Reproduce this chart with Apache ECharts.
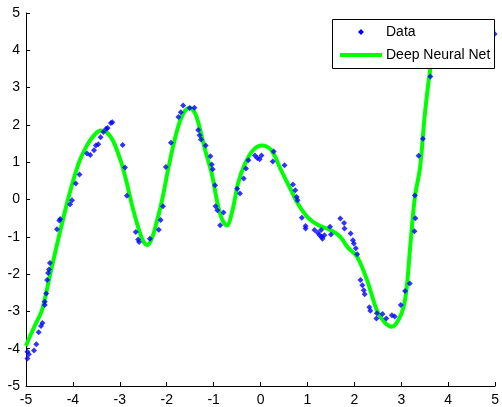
<!DOCTYPE html>
<html>
<head>
<meta charset="utf-8">
<script src="https://cdn.jsdelivr.net/npm/echarts@6/dist/echarts.min.js"></script>
<style>
html,body{margin:0;padding:0;background:#fff;}
#chart{width:502px;height:407px;}
</style>
</head>
<body>
<div id="chart"></div>
<script>
const xTicks = [-5,-4,-3,-2,-1,0,1,2,3,4,5];
const yTicks = [-5,-4,-3,-2,-1,0,1,2,3,4,5];
const seriesNames = ['Data', 'Deep Neural Net'];

const dataPoints = [
[-4.97,-4.08],[-4.97,-4.26],[-4.94,-4.15],[-4.83,-4.05],[-4.78,-3.88],[-4.73,-3.56],[-4.68,-3.39],[-4.65,-3.31],
[-4.60,-2.83],[-4.60,-2.74],[-4.57,-2.52],[-4.55,-2.16],[-4.53,-1.97],[-4.51,-1.88],[-4.49,-1.70],[-4.34,-0.80],
[-4.29,-0.56],[-4.27,-0.52],[-4.06,-0.13],[-4.02,-0.02],[-3.94,0.43],[-3.86,0.67],[-3.70,1.23],[-3.63,1.19],
[-3.55,1.32],[-3.51,1.45],[-3.46,1.48],[-3.41,1.67],[-3.35,1.81],[-3.29,1.90],[-3.26,1.92],[-3.19,2.05],
[-3.16,2.07],[-2.94,1.46],[-2.89,0.86],[-2.85,0.10],[-2.66,-0.87],[-2.61,-1.07],[-2.59,-1.14],[-2.36,-1.05],
[-2.17,-0.81],[-2.13,-0.55],[-2.08,-0.18],[-2.02,0.87],[-1.91,1.52],[-1.75,2.21],[-1.70,2.34],[-1.65,2.52],
[-1.51,2.45],[-1.41,2.46],[-1.33,1.86],[-1.30,1.72],[-1.27,1.61],[-1.17,1.45],[-1.07,1.16],[-1.04,0.94],
[-1.02,0.81],[-0.97,0.38],[-0.96,-0.18],[-0.92,-0.29],[-0.79,-0.35],[-0.86,-0.69],[-0.50,0.29],[-0.44,0.16],
[-0.36,0.56],[-0.31,0.83],[-0.26,1.05],[-0.12,1.18],[-0.07,1.11],[-0.02,1.08],[0.02,1.18],[0.28,1.29],
[0.26,1.02],[0.51,0.92],[0.69,0.40],[0.74,0.25],[0.77,0.07],[0.79,-0.02],[0.88,-0.49],[0.96,-0.71],
[0.96,-0.78],[1.15,-0.82],[1.22,-0.89],[1.26,-0.96],[1.32,-1.05],[1.29,-0.82],[1.30,-1.00],[1.36,-0.96],
[1.48,-0.73],[1.50,-0.94],[1.70,-0.51],[1.78,-0.63],[1.79,-0.78],[1.92,-0.91],[1.97,-1.09],[1.99,-1.18],
[2.03,-1.31],[2.06,-1.47],[2.13,-2.16],[2.17,-2.30],[2.20,-2.43],[2.22,-2.54],[2.32,-2.89],[2.34,-2.98],
[2.47,-3.19],[2.48,-3.05],[2.60,-3.07],[2.68,-3.19],[2.80,-3.10],[2.86,-3.14],[2.99,-2.83],[3.08,-2.45],
[3.18,-2.25],[3.29,0.11],[3.30,-0.50],[3.28,-0.85],[3.37,1.17],[3.46,1.63],[3.62,3.30],[3.75,4.20],[4.99,4.44]
];

const netCurve = [
[-5.0,-3.93],[-4.9,-3.62],[-4.78,-3.3],[-4.66,-2.97],[-4.48,-1.98],[-4.30,-1.0],[-4.09,0.07],[-3.88,0.96],
[-3.70,1.45],[-3.55,1.72],[-3.41,1.85],[-3.28,1.80],[-3.15,1.59],[-3.04,1.25],[-2.94,0.87],[-2.83,0.33],
[-2.73,-0.2],[-2.59,-0.82],[-2.50,-1.12],[-2.41,-1.22],[-2.32,-1.05],[-2.24,-0.73],[-2.10,-0.02],[-1.96,0.87],
[-1.78,1.85],[-1.64,2.32],[-1.51,2.45],[-1.40,2.32],[-1.32,2.03],[-1.18,1.32],[-1.04,0.69],[-0.93,-0.02],
[-0.83,-0.5],[-0.72,-0.70],[-0.60,-0.3],[-0.48,0.43],[-0.33,0.96],[-0.16,1.32],[0.03,1.45],[0.23,1.32],
[0.44,0.78],[0.65,0.25],[0.79,-0.1],[1.0,-0.47],[1.22,-0.68],[1.49,-0.82],[1.70,-1.0],[1.85,-1.27],
[2.06,-1.54],[2.27,-2.16],[2.48,-2.97],[2.65,-3.3],[2.80,-3.41],[2.93,-3.25],[3.05,-2.88],[3.12,-2.3],
[3.19,-1.27],[3.29,0.07],[3.40,0.85],[3.50,2.26],[3.61,3.42],[3.72,4.2],[3.85,4.5],[4.0,4.58],
[4.5,4.57],[5.0,4.5]
];

const chart = echarts.init(document.getElementById('chart'), null, {renderer:'canvas'});
const font = 'Liberation Sans, Arial, Helvetica, sans-serif';
const axisCommon = {
  type:'value', min:-5, max:5, interval:1,
  axisLine:{show:true, onZero:false, lineStyle:{color:'#000', width:1}},
  axisTick:{show:true, inside:true, length:4, lineStyle:{color:'#000'}},
  splitLine:{show:false},
  axisLabel:{color:'#000', fontSize:14, fontFamily:font}
};
chart.setOption({
  animation:false,
  backgroundColor:'#fff',
  grid:{left:26, right:3, top:13, bottom:21, containLabel:false},
  xAxis:Object.assign({}, axisCommon, {axisLabel:Object.assign({}, axisCommon.axisLabel, {margin:7, customValues: xTicks})}),
  yAxis:Object.assign({}, axisCommon, {axisLabel:Object.assign({}, axisCommon.axisLabel, {margin:6, customValues: yTicks})}),
  legend:{show:false, data:seriesNames},
  graphic:[{
    type:'group', left:332, top:19, z:100,
    children:[
      {type:'rect', shape:{x:0.5, y:0.5, width:162, height:49}, style:{fill:'#fff', stroke:'#000', lineWidth:1}, z:100},
      {type:'polygon', shape:{points:[[29,10],[32,13],[29,16],[26,13]]}, style:{fill:'#0000ff'}, z:101},
      {type:'line', shape:{x1:8, y1:36, x2:50, y2:36}, style:{stroke:'#00ff00', lineWidth:4}, z:101},
      {type:'text', x:54, y:13, style:{text:seriesNames[0], fill:'#000', font:'14px ' + font, verticalAlign:'middle', align:'left'}, z:101},
      {type:'text', x:54, y:36, style:{text:seriesNames[1], fill:'#000', font:'14px ' + font, verticalAlign:'middle', align:'left'}, z:101}
    ]
  }],
  series:[
    {
      name:seriesNames[1], type:'line', data:netCurve, showSymbol:false, symbol:'none',
      smooth:0.35,
      lineStyle:{color:'#00ff00', width:4}, itemStyle:{color:'#00ff00'}, z:2
    },
    {
      name:seriesNames[0], type:'scatter', data:dataPoints, symbol:'diamond', symbolSize:6,
      itemStyle:{color:'#0000ff'}, z:3
    }
  ]
});
</script>
</body>
</html>
